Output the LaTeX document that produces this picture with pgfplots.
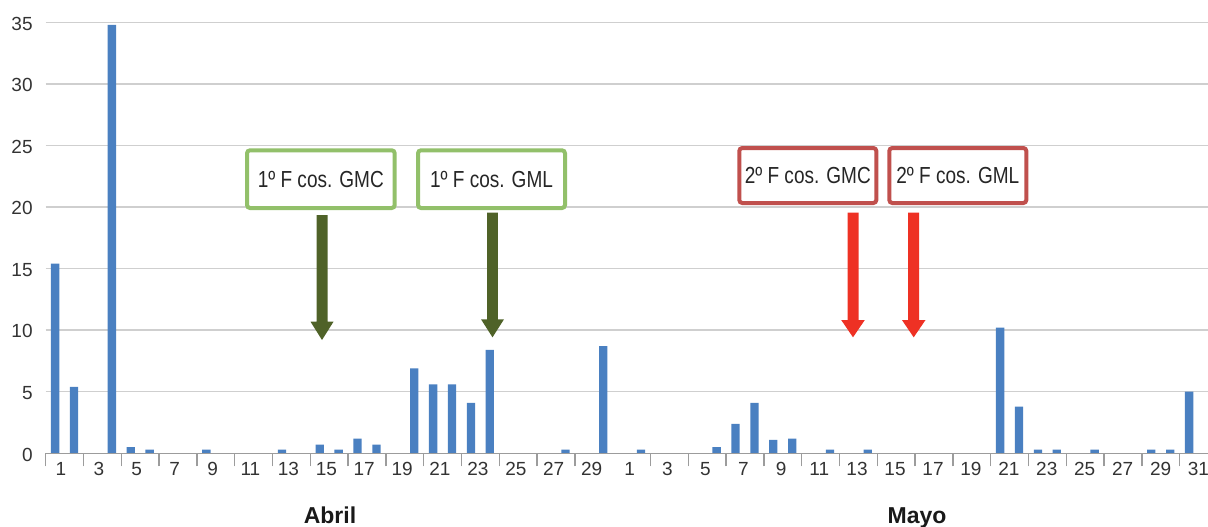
\documentclass[border=0pt]{standalone}
\usepackage{fontspec}
\setmainfont{Liberation Sans}
\usepackage{graphicx}
\usepackage{pgfplots}
\pgfplotsset{compat=1.18}
\definecolor{barblue}{HTML}{4A80C1}
\definecolor{gridgray}{HTML}{CFCFCF}
\definecolor{axisgray}{HTML}{9C9C9C}
\definecolor{boxgreen}{HTML}{92C06A}
\definecolor{boxred}{HTML}{C0504D}
\definecolor{arrgreen}{HTML}{4F6228}
\definecolor{arrred}{HTML}{EE3124}
\pgfplotstableread{
x y
0 15.4
1 5.4
2 0
3 34.8
4 0.5
5 0.3
6 0
7 0
8 0.3
9 0
10 0
11 0
12 0.3
13 0
14 0.7
15 0.3
16 1.2
17 0.7
18 0
19 6.9
20 5.6
21 5.6
22 4.1
23 8.4
24 0
25 0
26 0
27 0.3
28 0
29 8.7
30 0
31 0.3
32 0
33 0
34 0
35 0.5
36 2.4
37 4.1
38 1.1
39 1.2
40 0
41 0.3
42 0
43 0.3
44 0
45 0
46 0
47 0
48 0
49 0
50 10.2
51 3.8
52 0.3
53 0.3
54 0
55 0.3
56 0
57 0
58 0.3
59 0.3
60 5.0
}\datatable
\newcommand{\boxtext}[1]{{\fontsize{11.6}{13}\selectfont\color{black!85}\scalebox{0.82}[1]{#1}}}
\begin{document}
\begin{tikzpicture}
\path[use as bounding box] (-22.85pt,-36.35pt) rectangle (581.15pt,226.65pt);
\begin{axis}[
  at={(0pt,0pt)}, anchor=south west,
  scale only axis, width=581.15pt, height=215.5pt,
  xmin=-0.5, xmax=61.0, ymin=0, ymax=35,
  axis line style={draw=none},
  tick align=outside,
  xtick pos=left, ytick pos=left,
  major tick length=0pt, minor tick length=6.5pt,
  major tick style={draw=none},
  minor tick style={draw=axisgray, line width=0.75pt},
  xtick={0.30,2.31,4.31,6.32,8.33,10.33,12.34,14.35,16.35,18.36,20.36,22.37,24.38,26.38,28.39,30.40,32.40,34.41,36.42,38.42,40.43,42.43,44.44,46.45,48.45,50.46,52.47,54.47,56.48,58.49,60.49},
  xticklabels={1,3,5,7,9,11,13,15,17,19,21,23,25,27,29,1,3,5,7,9,11,13,15,17,19,21,23,25,27,29,31},
  minor xtick={-0.5,1.5,3.5,5.5,7.5,9.5,11.5,13.5,15.5,17.5,19.5,21.5,23.5,25.5,27.5,31.5,33.5,35.5,37.5,39.5,41.5,43.5,45.5,47.5,49.5,51.5,53.5,55.5,57.5,59.5},
  ytick={0,5,10,15,20,25,30,35},
  yticklabels={0,5,10,15,20,25,30,35},
  ymajorgrids,
  major grid style={draw=gridgray, line width=0.75pt},
  tick label style={font=\fontsize{9.5}{11}\selectfont, text=black!80},
  xticklabel style={yshift=-0.9pt},
  yticklabel style={xshift=-3pt, yshift=-0.6pt},
]
\addplot[ybar, bar width=0.44, fill=barblue, draw=none] table[x=x, y=y] {\datatable};
\draw[axisgray, line width=0.75pt] (axis cs:-0.5,0) -- (axis cs:61,0);
\draw[axisgray, line width=0.75pt] (axis cs:-0.5,0) -- ++(0pt,-36.35pt);
\draw[axisgray, line width=0.75pt] (axis cs:29.5,0) -- ++(0pt,-36.35pt);
\end{axis}
\begin{scope}[shift={(-22.85pt,226.65pt)}, x=0.5pt, y=-0.5pt]
  \node[anchor=base, font=\fontsize{11.5}{13}\selectfont\bfseries, text=black!90, inner sep=0pt] at (330,523.2) {Abril};
  \node[anchor=base, font=\fontsize{11.5}{13}\selectfont\bfseries, text=black!90, inner sep=0pt] at (917,523.2) {Mayo};
  \draw[boxgreen, line width=2pt, fill=white, rounded corners=1.5pt] (247,150.3) rectangle (394.7,208);
  \node at (320.8,179.2) {\boxtext{1º F cos. GMC}};
  \draw[boxgreen, line width=2pt, fill=white, rounded corners=1.5pt] (418,150.3) rectangle (565,208);
  \node at (491.5,179.2) {\boxtext{1º F cos. GML}};
  \draw[boxred, line width=2pt, fill=white, rounded corners=1.5pt] (739.3,148) rectangle (876.3,203);
  \node at (807.8,175.5) {\boxtext{2º F cos. GMC}};
  \draw[boxred, line width=2pt, fill=white, rounded corners=1.5pt] (889.3,148) rectangle (1026.3,203);
  \node at (957.8,175.5) {\boxtext{2º F cos. GML}};
  \fill[arrgreen] (316.7,215) -- (327.7,215) -- (327.7,321.7) -- (333.5,321.7) -- (322,340) -- (310.5,321.7) -- (316.7,321.7) -- cycle;
  \fill[arrgreen] (487.2,212.7) -- (497.8,212.7) -- (497.8,319.3) -- (504,319.3) -- (492.5,337.3) -- (481,319.3) -- (487.2,319.3) -- cycle;
  \fill[arrred] (847.5,212.7) -- (858.5,212.7) -- (858.5,320) -- (864.8,320) -- (853,337.3) -- (841.2,320) -- (847.5,320) -- cycle;
  \fill[arrred] (908.2,212.7) -- (919.2,212.7) -- (919.2,320) -- (925.5,320) -- (913.7,337.3) -- (901.9,320) -- (908.2,320) -- cycle;
\end{scope}
\end{tikzpicture}
\end{document}
